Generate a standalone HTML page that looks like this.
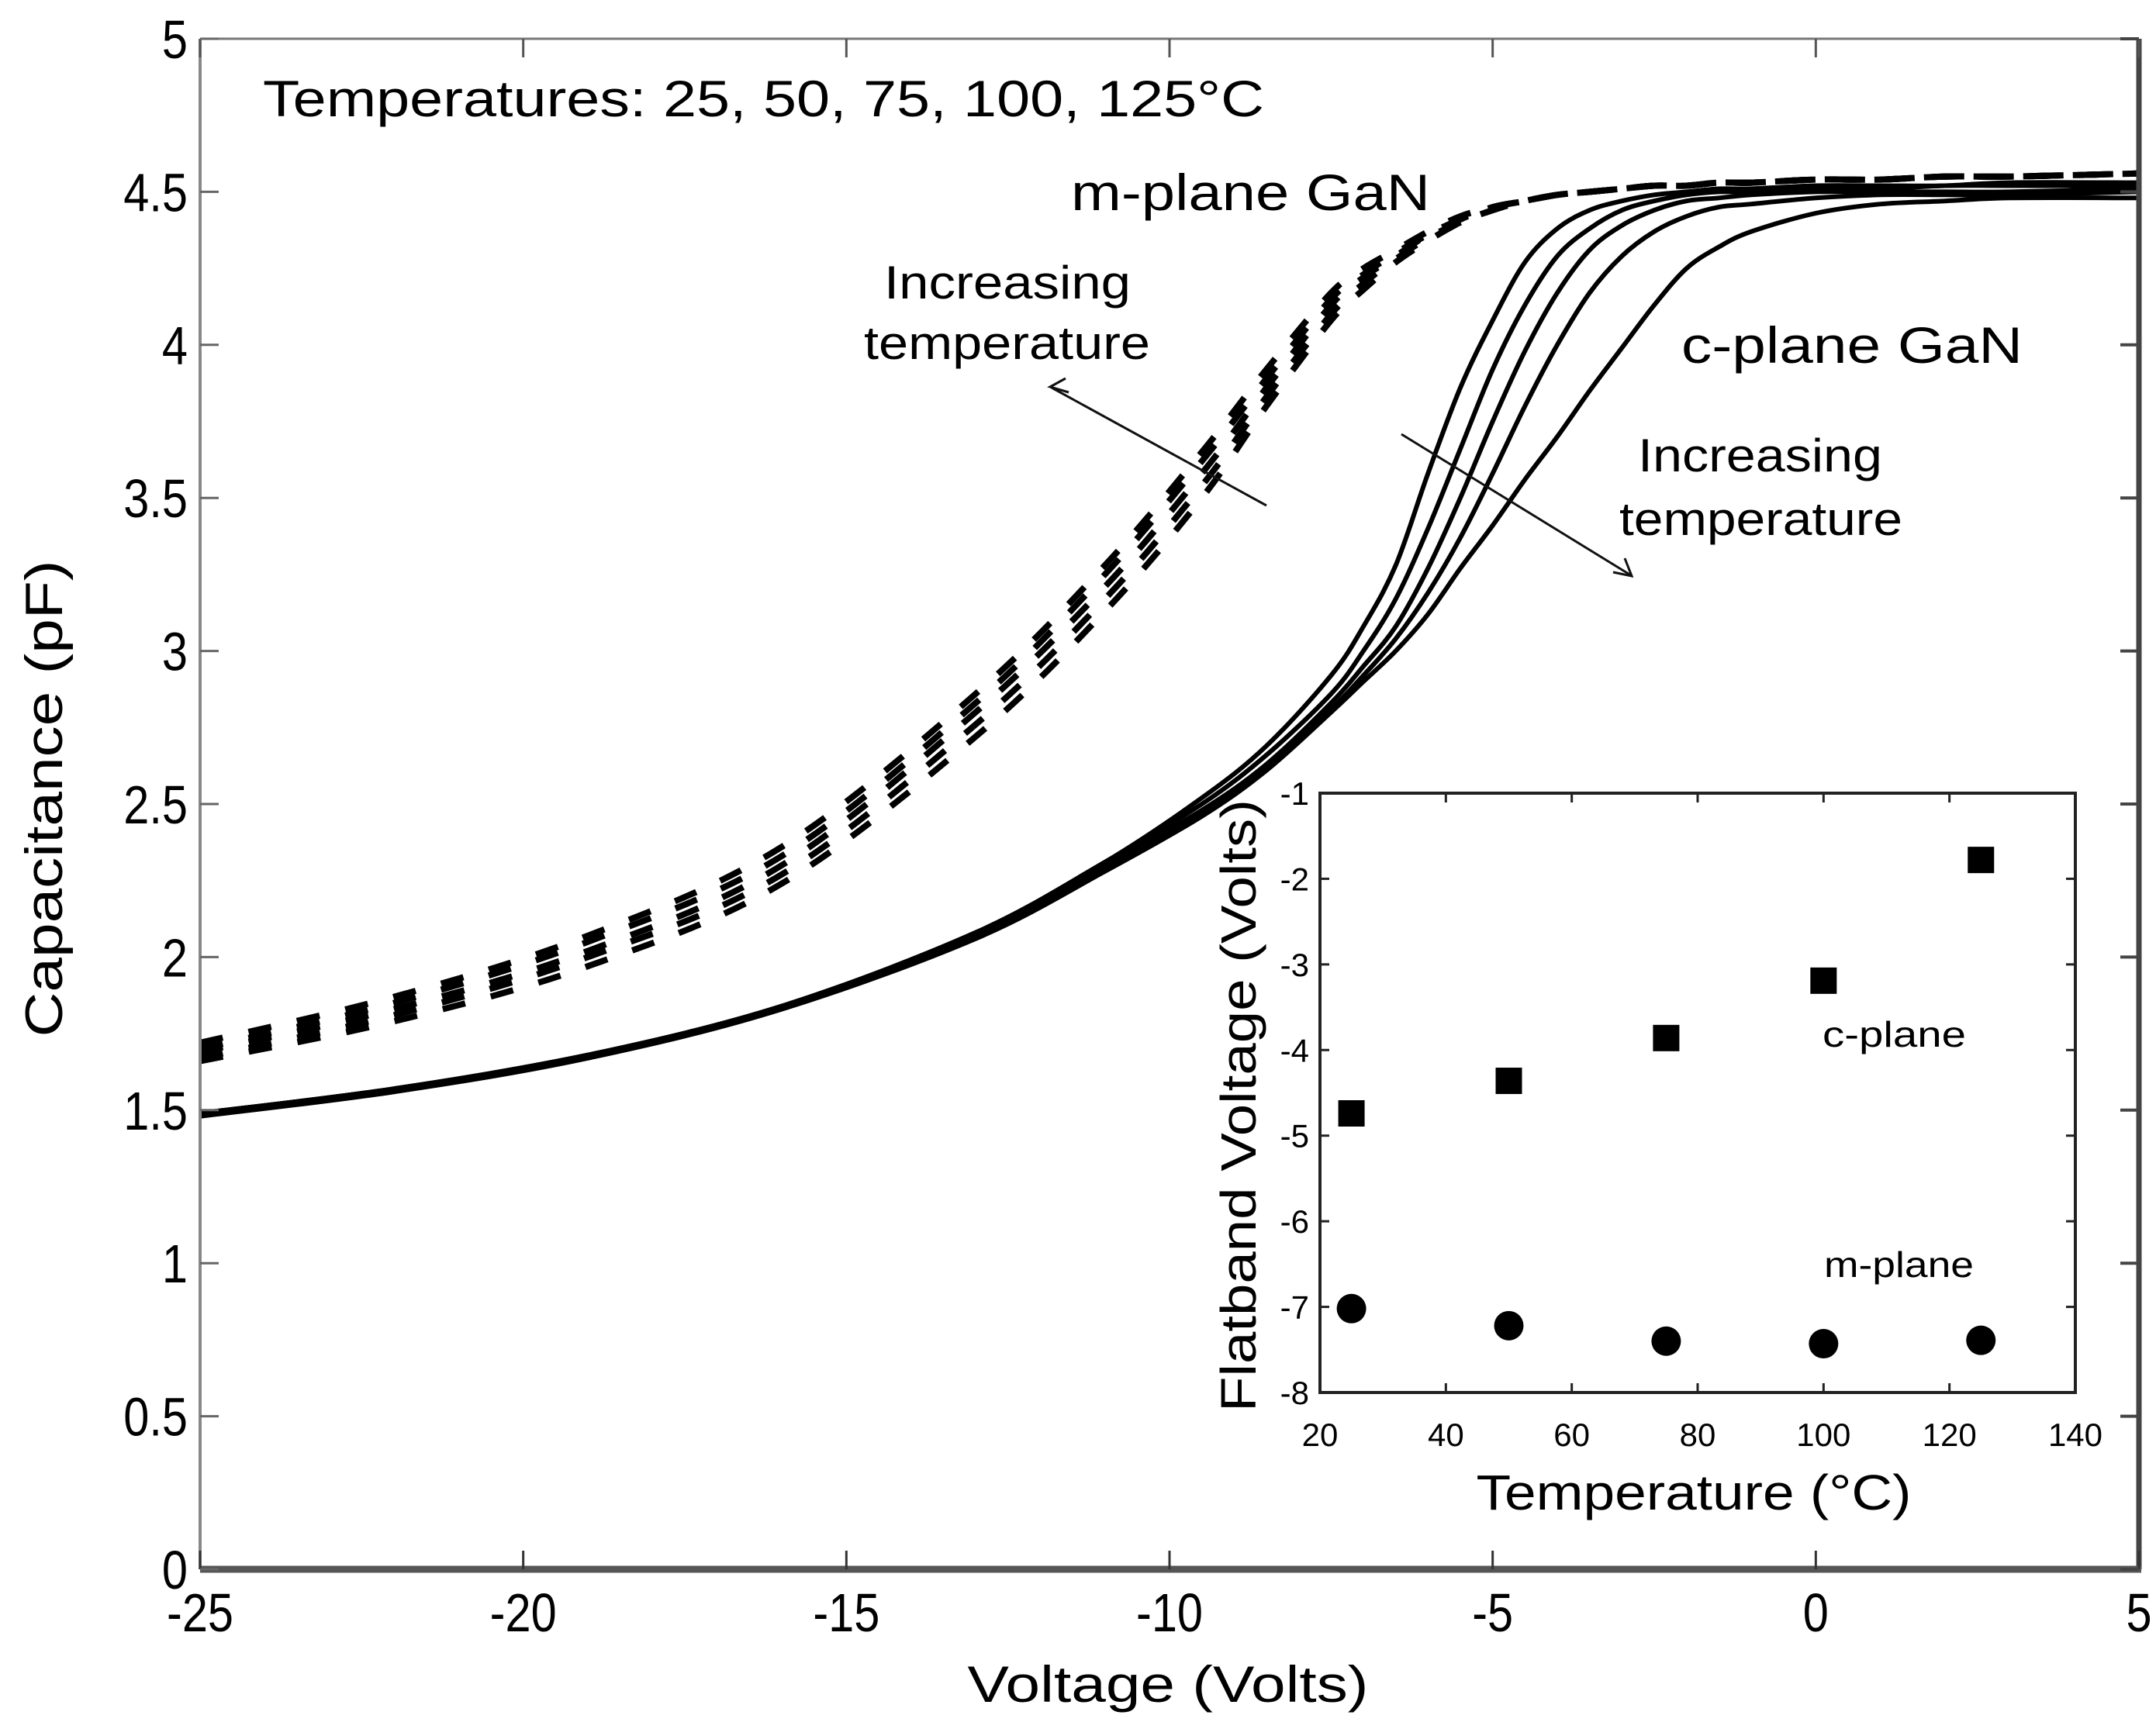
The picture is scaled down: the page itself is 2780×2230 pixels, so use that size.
<!DOCTYPE html>
<html><head><meta charset="utf-8"><style>
html,body{margin:0;padding:0;background:#fff;}
svg{display:block;font-family:"Liberation Sans",sans-serif;}
</style></head><body>
<svg id="chart" width="2780" height="2230" viewBox="0 0 2780 2230" xmlns="http://www.w3.org/2000/svg">
<rect width="2780" height="2230" fill="#fff"/>
<g id="main"></g>
<g id="inset"></g>
<text x="339" y="150" font-size="66" textLength="1291" lengthAdjust="spacingAndGlyphs">Temperatures: 25, 50, 75, 100, 125°C</text>
<text x="1381" y="271" font-size="66" textLength="463" lengthAdjust="spacingAndGlyphs">m-plane GaN</text>
<text x="2168" y="468" font-size="66" textLength="440" lengthAdjust="spacingAndGlyphs">c-plane GaN</text>
<text x="1140" y="385" font-size="60" textLength="318" lengthAdjust="spacingAndGlyphs">Increasing</text>
<text x="1114" y="463" font-size="60" textLength="369" lengthAdjust="spacingAndGlyphs">temperature</text>
<text x="2112" y="608" font-size="60" textLength="315" lengthAdjust="spacingAndGlyphs">Increasing</text>
<text x="2088" y="690" font-size="60" textLength="365" lengthAdjust="spacingAndGlyphs">temperature</text>
<g stroke="#111" stroke-width="3" fill="none">
<line x1="1633" y1="652" x2="1356" y2="500"/>
<polyline points="1374,488 1354,499 1378,506"/>
</g>
<g stroke="#111" stroke-width="3" fill="none">
<line x1="1807" y1="560" x2="2103" y2="742"/>
<polyline points="2080,738 2104,743 2095,720"/>
</g>
</svg>
<script>
const V = [-25,-22,-19,-16,-13,-11,-9.5,-8.5,-7.5,-7,-6.5,-6,-5.5,-5,-4.5,-4,-3.5,-3,-2.5,-2,-1.5,-1,0,1,2,3,5];
const c25 = [1.49,1.57,1.68,1.84,2.08,2.31,2.52,2.69,2.92,3.08,3.28,3.58,3.86,4.08,4.27,4.38,4.44,4.47,4.49,4.5,4.51,4.51,4.52,4.52,4.52,4.53,4.53];
const c50 = [1.49,1.57,1.68,1.84,2.08,2.31,2.5,2.66,2.86,3.0,3.17,3.4,3.66,3.92,4.13,4.29,4.38,4.44,4.47,4.49,4.5,4.5,4.51,4.51,4.52,4.52,4.52];
const c75 = [1.49,1.57,1.68,1.83,2.07,2.3,2.48,2.63,2.83,2.95,3.08,3.27,3.5,3.75,3.98,4.17,4.31,4.39,4.44,4.47,4.48,4.49,4.5,4.5,4.5,4.5,4.51];
const c100 = [1.48,1.56,1.67,1.83,2.07,2.29,2.47,2.62,2.81,2.92,3.04,3.19,3.37,3.58,3.8,4.0,4.17,4.29,4.37,4.42,4.45,4.46,4.48,4.49,4.49,4.49,4.5];
const c125 = [1.48,1.56,1.67,1.83,2.06,2.28,2.46,2.61,2.8,2.9,3.0,3.12,3.27,3.41,3.56,3.7,3.85,3.99,4.13,4.25,4.32,4.37,4.43,4.46,4.47,4.48,4.48];
const m25 = [1.66,1.79,1.97,2.24,2.72,3.13,3.5,3.8,4.08,4.18,4.27,4.34,4.4,4.44,4.47,4.49,4.5,4.51,4.52,4.52,4.53,4.53,4.54,4.54,4.55,4.55,4.56];
const m50 = [1.67,1.81,2.0,2.27,2.76,3.17,3.54,3.83,4.1,4.2,4.28,4.35,4.4,4.44,4.47,4.49,4.5,4.51,4.52,4.52,4.53,4.53,4.54,4.54,4.55,4.55,4.56];
const m75 = [1.69,1.83,2.02,2.3,2.8,3.21,3.58,3.86,4.13,4.22,4.29,4.36,4.41,4.45,4.47,4.49,4.5,4.51,4.52,4.52,4.53,4.53,4.54,4.54,4.55,4.55,4.56];
const m100 = [1.7,1.85,2.05,2.33,2.83,3.25,3.62,3.89,4.15,4.23,4.3,4.36,4.41,4.45,4.47,4.49,4.5,4.51,4.52,4.52,4.53,4.53,4.54,4.54,4.55,4.55,4.56];
const m125 = [1.72,1.87,2.07,2.36,2.86,3.28,3.65,3.92,4.17,4.25,4.31,4.37,4.42,4.45,4.47,4.49,4.5,4.51,4.52,4.52,4.53,4.53,4.54,4.54,4.55,4.55,4.56];
const xTicks = [-25,-20,-15,-10,-5,0,5];
const yTicks = [0,0.5,1,1.5,2,2.5,3,3.5,4,4.5,5];
const yTickLabels = ["0","0.5","1","1.5","2","2.5","3","3.5","4","4.5","5"];
const insetT = [25,50,75,100,125];
const cPlaneVfb = [-4.74,-4.36,-3.86,-3.19,-1.78];
const mPlaneVfb = [-7.02,-7.22,-7.40,-7.43,-7.39];
const insetXTicks = [20,40,60,80,100,120,140];
const insetYTicks = [-1,-2,-3,-4,-5,-6,-7,-8];

const NS = "http://www.w3.org/2000/svg";
function mk(tag, attrs, parent, text){const e=document.createElementNS(NS,tag);for(const k in attrs)e.setAttribute(k,attrs[k]);if(text!==undefined)e.textContent=text;parent.appendChild(e);return e;}
function condense(t,f){const w=t.getComputedTextLength();t.setAttribute('textLength',(w*f).toFixed(1));t.setAttribute('lengthAdjust','spacingAndGlyphs');}
const L=258,R=2758,T=50,B=2024;
const sx=v=>L+(v+25)/30*(R-L);
const sy=c=>B-c/5*(B-T);
const main=document.getElementById('main');

function curvePath(arr){
  const P=V.map((v,i)=>[sx(v),sy(arr[i])]);
  let d='M'+P[0][0].toFixed(1)+','+P[0][1].toFixed(1);
  for(let i=0;i<P.length-1;i++){
    const p0=P[Math.max(0,i-1)],p1=P[i],p2=P[i+1],p3=P[Math.min(P.length-1,i+2)];
    const c1=[p1[0]+(p2[0]-p0[0])/6,p1[1]+(p2[1]-p0[1])/6];
    const c2=[p2[0]-(p3[0]-p1[0])/6,p2[1]-(p3[1]-p1[1])/6];
    d+=' C'+c1[0].toFixed(1)+','+c1[1].toFixed(1)+' '+c2[0].toFixed(1)+','+c2[1].toFixed(1)+' '+p2[0].toFixed(1)+','+p2[1].toFixed(1);
  }
  return d;
}
[[m25,'m-plane-25c'],[m50,'m-plane-50c'],[m75,'m-plane-75c'],[m100,'m-plane-100c'],[m125,'m-plane-125c']].forEach(([a,n])=>{
  const p=mk('path',{d:curvePath(a),fill:'none',stroke:'#000','stroke-width':8,'stroke-dasharray':'30 34'},main);
  
  
});
[[c25,'c-plane-25c'],[c50,'c-plane-50c'],[c75,'c-plane-75c'],[c100,'c-plane-100c'],[c125,'c-plane-125c']].forEach(([a,n])=>{
  const p=mk('path',{d:curvePath(a),fill:'none',stroke:'#000','stroke-width':6,'stroke-linejoin':'round'},main);
  
  
});

mk('line',{x1:L,y1:T,x2:R,y2:T,stroke:'#777','stroke-width':3},main);
mk('line',{x1:L,y1:T,x2:L,y2:B,stroke:'#888','stroke-width':4},main);
mk('line',{x1:R,y1:T,x2:R,y2:B,stroke:'#444','stroke-width':7},main);
mk('line',{x1:L,y1:B,x2:R+3,y2:B,stroke:'#555','stroke-width':9},main);
xTicks.forEach(v=>{
  mk('line',{x1:sx(v),y1:B,x2:sx(v),y2:B-24,stroke:'#333','stroke-width':3},main);
  mk('line',{x1:sx(v),y1:T,x2:sx(v),y2:T+24,stroke:'#555','stroke-width':3},main);
  const t=mk('text',{x:sx(v),y:2104,'font-size':70,'text-anchor':'middle'},main,String(v));
  
  
  condense(t,0.85);
});
yTicks.forEach((c,i)=>{
  mk('line',{x1:L,y1:sy(c),x2:L+24,y2:sy(c),stroke:'#666','stroke-width':3},main);
  mk('line',{x1:R,y1:sy(c),x2:R-24,y2:sy(c),stroke:'#444','stroke-width':4},main);
  const t=mk('text',{x:242,y:sy(c)+25,'font-size':70,'text-anchor':'end'},main,yTickLabels[i]);
  
  
  condense(t,0.85);
});
let xl=mk('text',{x:1506,y:2195,'font-size':66,'text-anchor':'middle',textLength:517,lengthAdjust:'spacingAndGlyphs'},main,'Voltage (Volts)');


let yl=mk('text',{x:0,y:0,'font-size':68,'text-anchor':'middle',textLength:615,lengthAdjust:'spacingAndGlyphs',transform:'translate(80,1030) rotate(-90)'},main,'Capacitance (pF)');



const inset=document.getElementById('inset');
const IL=1702,IR=2676,IT=1023,IB=1796;
const ix=t=>IL+(t-20)/120*(IR-IL);
const iy=v=>IT+(-1-v)/7*(IB-IT);
mk('rect',{x:IL,y:IT,width:IR-IL,height:IB-IT,fill:'#fff',stroke:'#222','stroke-width':4},inset);
insetXTicks.forEach(t=>{
  mk('line',{x1:ix(t),y1:IB,x2:ix(t),y2:IB-12,stroke:'#222','stroke-width':3},inset);
  mk('line',{x1:ix(t),y1:IT,x2:ix(t),y2:IT+12,stroke:'#222','stroke-width':3},inset);
  const e=mk('text',{x:ix(t),y:1865,'font-size':42,'text-anchor':'middle'},inset,String(t));
  
  
});
insetYTicks.forEach(v=>{
  mk('line',{x1:IL,y1:iy(v),x2:IL+12,y2:iy(v),stroke:'#222','stroke-width':3},inset);
  mk('line',{x1:IR,y1:iy(v),x2:IR-12,y2:iy(v),stroke:'#222','stroke-width':3},inset);
  const e=mk('text',{x:1688,y:iy(v)+15,'font-size':42,'text-anchor':'end'},inset,String(v));
  
  
});
insetT.forEach((t,i)=>{
  const s=mk('rect',{x:ix(t)-17,y:iy(cPlaneVfb[i])-17,width:34,height:34,fill:'#000'},inset);
  
  
  const c=mk('circle',{cx:ix(t),cy:iy(mPlaneVfb[i]),r:19,fill:'#000'},inset);
  
  
});
let t1=mk('text',{x:2350,y:1350,'font-size':46,textLength:185,lengthAdjust:'spacingAndGlyphs'},inset,'c-plane');


let t2=mk('text',{x:2352,y:1647,'font-size':46,textLength:193,lengthAdjust:'spacingAndGlyphs'},inset,'m-plane');


let ixl=mk('text',{x:2184,y:1947,'font-size':64,'text-anchor':'middle',textLength:561,lengthAdjust:'spacingAndGlyphs'},inset,'Temperature (°C)');


let iyl=mk('text',{x:0,y:0,'font-size':64,'text-anchor':'middle',textLength:790,lengthAdjust:'spacingAndGlyphs',transform:'translate(1619,1426) rotate(-90)'},inset,'Flatband Voltage (Volts)');


</script>
</body></html>
